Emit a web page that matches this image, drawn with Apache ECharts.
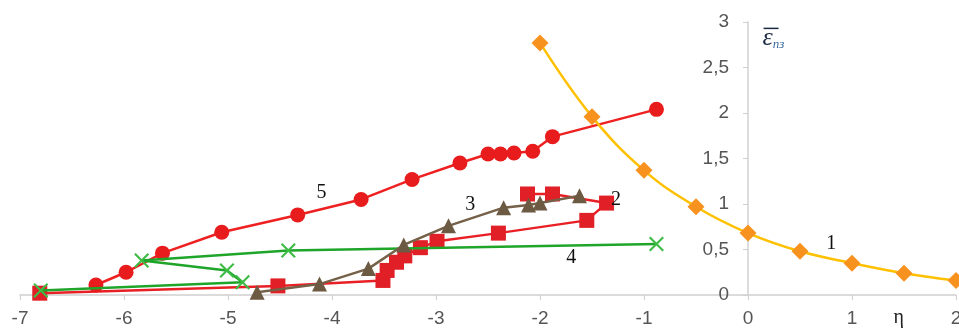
<!DOCTYPE html>
<html><head><meta charset="utf-8">
<script src="https://cdn.jsdelivr.net/npm/echarts@6/dist/echarts.min.js"></script>
<style>html,body{margin:0;padding:0;background:#fff}#c{width:959px;height:329px}</style>
</head><body><div id="c"></div>
<script>
// x-axis ticks
var xTicks = [-7,-6,-5,-4,-3,-2,-1,0,1,2];
var yTicks = [0,0.5,1,1.5,2,2.5,3];
// Curve 1 (orange diamonds)
var s1x = [-2,-1.5,-1,-0.5,0,0.5,1,1.5,2];
var s1y = [2.77,1.96,1.37,0.97,0.68,0.48,0.35,0.24,0.16];
// Curve 2 (red squares)
var s2x = [-6.81,-4.52,-3.51,-3.47,-3.38,-3.30,-3.15,-2.99,-2.40,-1.55,-1.36,-1.88,-2.12];
var s2y = [0.02,0.10,0.16,0.27,0.36,0.43,0.52,0.59,0.68,0.82,1.01,1.11,1.11];
// Curve 3 (brown triangles)
var s3x = [-4.72,-4.12,-3.65,-3.31,-2.88,-2.35,-2.11,-2.0,-1.62];
var s3y = [0.03,0.12,0.29,0.55,0.76,0.96,0.99,1.01,1.09];
// Curve 4 (green crosses)
var s4x = [-6.80,-4.86,-5.01,-5.83,-4.42,-0.88];
var s4y = [0.05,0.14,0.27,0.38,0.49,0.56];
// Curve 5 (red circles)
var s5x = [-6.27,-5.98,-5.63,-5.06,-4.33,-3.72,-3.23,-2.77,-2.50,-2.38,-2.25,-2.07,-1.88,-0.88];
var s5y = [0.11,0.25,0.46,0.69,0.88,1.05,1.27,1.45,1.55,1.55,1.56,1.58,1.74,2.04];
// curve labels and their anchor (data coords)
var curveNames = ['1','2','3','4','5'];
var curveLabelX = [0.8,-1.27,-2.67,-1.7,-4.1];
var curveLabelY = [0.56,1.05,0.99,0.41,1.12];

function zip(a,b){return a.map(function(v,i){return [v,b[i]];});}
var xPath = 'path://M1,0 L5,4 L9,0 L10,1 L6,5 L10,9 L9,10 L5,6 L1,10 L0,9 L4,5 L0,1 Z';

var chart = echarts.init(document.getElementById('c'));
var axisCol = '#d0d0d0';
var gridLeft = 20;
chart.setOption({
  animation:false,
  grid:{left:gridLeft,right:3,top:22,bottom:34,outerBoundsMode:'none',containLabel:false},
  xAxis:{type:'value',min:xTicks[0],max:xTicks[xTicks.length-1],interval:1,
    axisLine:{onZero:false,lineStyle:{color:axisCol,width:1.5}},
    axisTick:{show:true,inside:false,length:5,lineStyle:{color:axisCol}},
    splitLine:{show:false},
    axisLabel:{color:'#555',fontSize:19,fontFamily:'Liberation Sans',margin:14,showMinLabel:true,showMaxLabel:true,
      alignMinLabel:'center',alignMaxLabel:'center'}},
  yAxis:{type:'value',min:yTicks[0],max:yTicks[yTicks.length-1],interval:0.5,position:'left',
    axisLine:{show:true,onZero:false,lineStyle:{color:axisCol,width:1.5}},
    axisTick:{show:true,inside:false,length:5,lineStyle:{color:axisCol}},
    splitLine:{show:false},
    axisLabel:{color:'#555',fontSize:19,fontFamily:'Liberation Sans',margin:19,
      formatter:function(v){return String(v).replace('.',',');}}},
  series:[
    {type:'line',data:zip(s5x,s5y),symbol:'circle',symbolSize:15,
     lineStyle:{color:'#ee2020',width:2.5},itemStyle:{color:'#e81c1c'},z:3},
    {type:'line',data:zip(s4x,s4y),symbol:xPath,symbolSize:15,
     lineStyle:{color:'#1ea52a',width:2.5},itemStyle:{color:'#3dbb45'},z:4},
    {type:'line',data:zip(s2x,s2y),symbol:'rect',symbolSize:15,
     lineStyle:{color:'#e82025',width:2.5},itemStyle:{color:'#e01f26'},z:2},
    {type:'line',data:zip(s3x,s3y),symbol:'triangle',symbolSize:15,
     lineStyle:{color:'#756148',width:2.5},itemStyle:{color:'#6d5a42'},z:5},
    {type:'line',data:zip(s1x,s1y),symbol:'diamond',symbolSize:17,smooth:0.4,
     lineStyle:{color:'#ffc000',width:2.5},itemStyle:{color:'#f7921e'},z:6}
  ]
});

// move the y axis onto x = 0
var p0 = chart.convertToPixel({gridIndex:0},[0,0]);
chart.setOption({yAxis:{offset:-(p0[0]-gridLeft)}});

var g = [];
curveNames.forEach(function(n,i){
  var p = chart.convertToPixel({gridIndex:0},[curveLabelX[i],curveLabelY[i]]);
  g.push({type:'text',x:p[0],y:p[1],style:{text:n,fill:'#111',font:'20px "Liberation Serif"',align:'center',verticalAlign:'middle'},z:10});
});
var pe = chart.convertToPixel({gridIndex:0},[1.45,0]);
g.push({type:'text',x:pe[0],y:pe[1]+23,style:{text:'η',fill:'#222',font:'20px "Liberation Serif"',align:'center',verticalAlign:'middle'}});
var py = chart.convertToPixel({gridIndex:0},[0.14,2.82]);
g.push({type:'text',x:py[0],y:py[1],style:{
  rich:{e:{fontFamily:'Liberation Serif',fontStyle:'italic',fontSize:26,fill:'#1a2a40'},
        s:{fontFamily:'Liberation Serif',fontStyle:'italic',fontSize:13,fill:'#3a6aa0',padding:[12,0,0,0]}},
  text:'{e|ε}{s|пз}',align:'left',verticalAlign:'middle'}});
g.push({type:'line',shape:{x1:py[0]+1,y1:py[1]-10,x2:py[0]+16,y2:py[1]-10},style:{stroke:'#1a2a40',lineWidth:1.5}});
chart.setOption({graphic:g});
</script></body></html>
